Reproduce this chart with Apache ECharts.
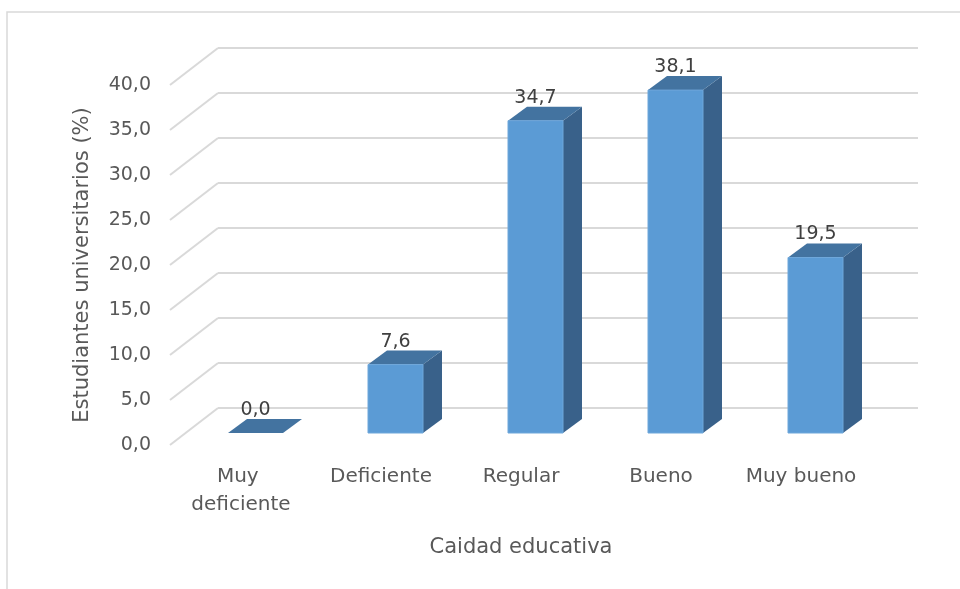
<!DOCTYPE html>
<html>
<head>
<meta charset="utf-8">
<script src="https://cdn.jsdelivr.net/npm/echarts@6/dist/echarts.min.js"></script>
<style>html,body{margin:0;padding:0;background:#fff}#c{width:960px;height:589px}</style>
</head>
<body>
<div id="c"></div>
<script>
var categories = ['Muy deficiente', 'Deficiente', 'Regular', 'Bueno', 'Muy bueno'];
var values = [0.0, 7.6, 34.7, 38.1, 19.5];
var yTicks = [0, 5, 10, 15, 20, 25, 30, 35, 40];
var xTitle = 'Caidad educativa';
var yTitle = 'Estudiantes universitarios (%)';

var FONT = 'DejaVu Sans';
var TXT = '#595959';
var GRID = '#d9d9d9';
var FACE = '#5b9bd5', TOP = '#4373a0', SIDE = '#39618a';
var WALL_DX = -48, WALL_DY = 37;   // back wall -> front edge
var BAR_DX = -32.5, BAR_DY = 25;   // back wall -> bar front face
var DEP_DX = 19, DEP_DY = -14;     // bar depth
var HALF = 27.5;

function fmt(v){ return v.toFixed(1).replace('.', ','); }

var chart = echarts.init(document.getElementById('c'));
chart.setOption({
  animation: false,
  backgroundColor: '#fff',
  graphic: [{
    type: 'rect', shape: {x: 7, y: 12, width: 1000, height: 1000},
    style: {fill: 'none', stroke: '#d9d9d9', lineWidth: 1.5}, silent: true
  }],
  grid: [
    {left: 218, right: 42, top: 48, bottom: 181},
    {left: 171, right: 89, top: 85, bottom: 144}
  ],
  xAxis: [
    {type: 'category', gridIndex: 0, data: categories, show: false},
    {type: 'category', gridIndex: 1, data: categories,
     axisLine: {show: false}, axisTick: {show: false},
     axisLabel: {interval: 0, color: TXT, fontFamily: FONT, fontSize: 20, margin: 18,
                 width: 115, overflow: 'break', lineHeight: 28},
     name: xTitle, nameLocation: 'middle', nameGap: 92,
     nameTextStyle: {color: TXT, fontFamily: FONT, fontSize: 21}}
  ],
  yAxis: [
    {type: 'value', gridIndex: 0, min: 0, max: 40, interval: 5,
     axisLine: {show: false}, axisTick: {show: false}, axisLabel: {show: false},
     splitLine: {lineStyle: {color: GRID, width: 2}}},
    {type: 'value', gridIndex: 1, min: 0, max: 40, interval: 5,
     axisLine: {show: false}, axisTick: {show: false}, splitLine: {show: false},
     axisLabel: {color: TXT, fontFamily: FONT, fontSize: 19, margin: 20, formatter: fmt},
     name: yTitle, nameLocation: 'middle', nameGap: 78, nameRotate: 90,
     nameTextStyle: {color: TXT, fontFamily: FONT, fontSize: 21}}
  ],
  series: [
    {
      type: 'custom', xAxisIndex: 0, yAxisIndex: 0, silent: true,
      data: yTicks.map(function(t){ return [0, t]; }),
      renderItem: function(params, api){
        var y = api.coord([0, api.value(1)])[1];
        var x = params.coordSys.x;
        return {type: 'line', shape: {x1: x, y1: y, x2: x + WALL_DX, y2: y + WALL_DY},
                style: {stroke: GRID, lineWidth: 2}};
      }
    },
    {
      type: 'custom', xAxisIndex: 0, yAxisIndex: 0, silent: true,
      data: values.map(function(v, i){ return [i, v]; }),
      renderItem: function(params, api){
        var i = api.value(0), v = api.value(1);
        var p0 = api.coord([i, 0]), p1 = api.coord([i, v]);
        var cx = p0[0] + BAR_DX, bot = p0[1] + BAR_DY, top = p1[1] + BAR_DY;
        var l = cx - HALF, r = cx + HALF;
        var children = [
          {type: 'polygon', shape: {points: [[r, top], [r + DEP_DX, top + DEP_DY], [r + DEP_DX, bot + DEP_DY], [r, bot]]},
           style: {fill: SIDE}},
          {type: 'polygon', shape: {points: [[l, top], [r, top], [r + DEP_DX, top + DEP_DY], [l + DEP_DX, top + DEP_DY]]},
           style: {fill: TOP}}
        ];
        if (bot - top > 0.5) {
          children.push({type: 'rect', shape: {x: l, y: top, width: 2 * HALF, height: bot - top},
                         style: {fill: FACE, stroke: '#6fa7da', lineWidth: 1}});
        }
        children.push({type: 'text', x: cx, y: top + DEP_DY - 9,
          style: {text: fmt(v), fill: '#404040', font: '19px "' + FONT + '"', align: 'center', verticalAlign: 'middle'}});
        return {type: 'group', children: children};
      }
    }
  ]
});
</script>
</body>
</html>
